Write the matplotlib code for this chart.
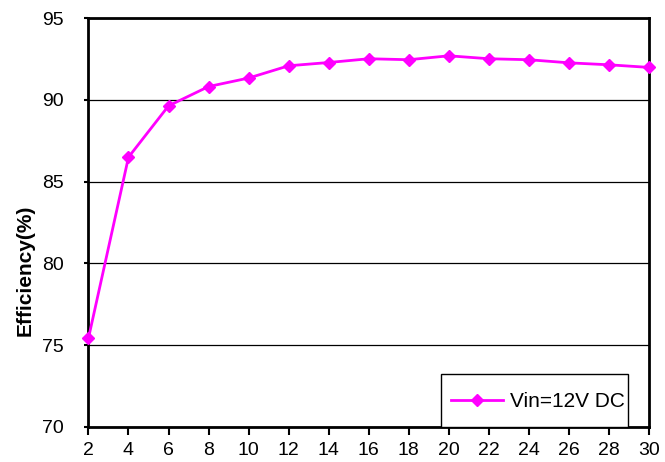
import matplotlib.pyplot as plt
from matplotlib.patches import Rectangle

# data
load = [2, 4, 6, 8, 10, 12, 14, 16, 18, 20, 22, 24, 26, 28, 30]
efficiency = [75.42, 86.49, 89.63, 90.81, 91.33, 92.08, 92.28, 92.51,
              92.45, 92.69, 92.51, 92.45, 92.26, 92.14, 91.98]
series_label = 'Vin=12V DC'
x_ticks = list(range(2, 31, 2))
y_ticks = [70, 75, 80, 85, 90, 95]

plt.rcParams['font.family'] = ['Liberation Sans', 'DejaVu Sans']

fig = plt.figure(figsize=(6.65, 4.62), dpi=100)
ax = fig.add_axes([0.133, 0.076, 0.843, 0.885])

ax.plot(load, efficiency, color='#ff00ff', linewidth=2, marker='D',
        markersize=6, label=series_label, clip_on=False, zorder=5)

ax.set_xlim(2, 30)
ax.set_ylim(70, 95)
ax.set_xticks(x_ticks)
ax.set_yticks(y_ticks)
ax.tick_params(axis='both', labelsize=14, direction='out', width=1.5)
ax.tick_params(axis='x', length=6, pad=5)
ax.tick_params(axis='y', length=3, pad=15)
ax.yaxis.grid(True, color='black', linewidth=0.9)
ax.set_axisbelow(True)

for side in ['left', 'bottom', 'right', 'top']:
    ax.spines[side].set_linewidth(2)

ax.set_ylabel('Efficiency(%)', fontsize=15, fontweight='bold')
ax.yaxis.set_label_coords(-0.0955, 0.382)

# legend box sits on the bottom axis, text close to its lower edge
ax.add_patch(Rectangle((0.629, 0.0), 0.3336, 0.1297, transform=ax.transAxes,
                       facecolor='white', edgecolor='black', linewidth=1,
                       zorder=6, clip_on=False))
leg = ax.legend(loc='center left', bbox_to_anchor=(0.6467, 0.0612),
                borderaxespad=0, borderpad=0, frameon=False, fontsize=15,
                handlelength=2.5, handletextpad=0.34)
leg.set_zorder(7)

fig.savefig('out.png', dpi=100)
